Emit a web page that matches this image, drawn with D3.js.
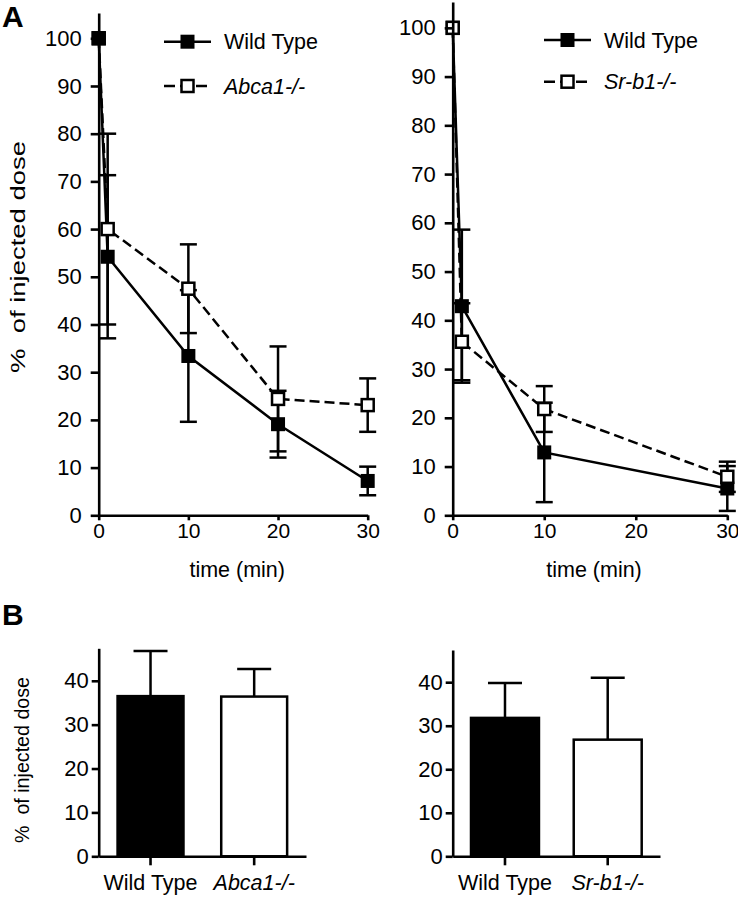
<!DOCTYPE html>
<html>
<head>
<meta charset="utf-8">
<script src="https://cdn.jsdelivr.net/npm/d3@7"></script>
<style>
  body { margin: 0; background: #fff; }
  svg { display: block; font-family: "Liberation Sans", Arial, sans-serif; }
</style>
</head>
<body>
<svg id="fig" width="738" height="897"></svg>
<script>
// panel A, left: Abca1
var timeAbca = [0, 1, 10, 20, 30];
var wtAbcaMean = [100, 54.2, 33.4, 19.1, 7.2];
var wtAbcaSem = [0, 17.1, 13.8, 7.0, 3.0];
var abcaMean = [100, 60.0, 47.5, 24.4, 23.1];
var abcaSem = [0, 20.0, 9.3, 11.0, 5.6];

// panel A, right: Sr-b1
var timeSrb = [0, 1, 10, 30];
var wtSrbMean = [100, 42.9, 12.9, 5.5];
var wtSrbSem = [0, 15.7, 10.2, 4.6];
var srbMean = [100, 35.6, 21.8, 7.9];
var srbSem = [0, 7.9, 4.7, 3.1];

var timeTicks = [0, 10, 20, 30];
var pctTicks = [0, 10, 20, 30, 40, 50, 60, 70, 80, 90, 100];

// panel B
var barGroupsAbca = ['Wild Type', 'Abca1-/-'];
var barMeanAbca = [36.5, 36.4];
var barSemAbca = [10.3, 6.3];
var barGroupsSrb = ['Wild Type', 'Sr-b1-/-'];
var barMeanSrb = [31.8, 26.8];
var barSemSrb = [8.0, 14.2];
var barTicks = [0, 10, 20, 30, 40];

var svg = d3.select('#fig');

function zip(t, m, s) {
  return t.map(function(d, i) { return { t: d, m: m[i], s: s[i] }; });
}

// plain black axis, text sized directly on each label
function styleAxis(sel, size) {
  sel.select('.domain').attr('stroke', '#000').attr('stroke-width', 2.6);
  sel.selectAll('.tick line').attr('stroke', '#000').attr('stroke-width', 2.6);
  sel.selectAll('.tick text')
    .attr('fill', '#000')
    .style('font-family', '"Liberation Sans", Arial, sans-serif')
    .style('font-size', size + 'px');
}

function linePanel(cfg) {
  var x = d3.scaleLinear().domain([0, 30]).range([cfg.left, cfg.right]);
  var y = d3.scaleLinear().domain([0, 105.3]).range([515.3, cfg.top]);
  var g = svg.append('g');

  var line = d3.line()
    .x(function(d) { return x(d.t); })
    .y(function(d) { return y(d.m); });

  // lines and error bars
  cfg.series.forEach(function(s) {
    g.append('path')
      .attr('d', line(s.data))
      .attr('fill', 'none')
      .attr('stroke', '#000')
      .attr('stroke-width', 2.5)
      .attr('stroke-dasharray', s.dashed ? '10,5' : null);

    var eb = g.selectAll(null)
      .data(s.data.filter(function(d) { return d.s > 0; }))
      .enter().append('g')
        .attr('stroke', '#000')
        .attr('stroke-width', 2.5);
    eb.append('line')
      .attr('x1', function(d) { return x(d.t); })
      .attr('x2', function(d) { return x(d.t); })
      .attr('y1', function(d) { return y(d.m - d.s); })
      .attr('y2', function(d) { return y(d.m + d.s); });
    [-1, 1].forEach(function(k) {
      eb.append('line')
        .attr('x1', function(d) { return x(d.t) - 8.5; })
        .attr('x2', function(d) { return x(d.t) + 8.5; })
        .attr('y1', function(d) { return y(d.m + k * d.s); })
        .attr('y2', function(d) { return y(d.m + k * d.s); });
    });
  });

  // markers
  cfg.series.forEach(function(s) {
    g.selectAll(null)
      .data(s.data)
      .enter().append('rect')
        .attr('x', function(d) { return x(d.t) - (s.filled ? 7 : 6); })
        .attr('y', function(d) { return y(d.m) - (s.filled ? 7 : 6); })
        .attr('width', s.filled ? 14 : 12)
        .attr('height', s.filled ? 14 : 12)
        .attr('fill', s.filled ? '#000' : '#fff')
        .attr('stroke', s.filled ? 'none' : '#000')
        .attr('stroke-width', 2.5);
  });

  // axes
  g.append('g')
    .attr('transform', 'translate(0,515.3)')
    .call(d3.axisBottom(x).tickValues(timeTicks).tickSize(5).tickPadding(3).tickSizeOuter(0))
    .call(styleAxis, 21);
  g.append('g')
    .attr('transform', 'translate(' + cfg.left + ',0)')
    .call(d3.axisLeft(y).tickValues(pctTicks).tickSize(8).tickPadding(9).tickSizeOuter(0))
    .call(styleAxis, 22);

  g.append('text')
    .attr('x', (cfg.left + cfg.right) / 2 + 4)
    .attr('y', 576.7)
    .attr('text-anchor', 'middle')
    .attr('font-size', 21.5)
    .text('time (min)');

  // legend
  cfg.legend.forEach(function(r) {
    var lg = g.append('g');
    lg.append('line')
      .attr('x1', cfg.legX0).attr('x2', cfg.legX0 + 47)
      .attr('y1', r.y).attr('y2', r.y)
      .attr('stroke', '#000').attr('stroke-width', 2.5)
      .attr('stroke-dasharray', r.dashed ? '11,5' : null);
    lg.append('rect')
      .attr('x', cfg.legX0 + 23.5 - (r.filled ? 7 : 6))
      .attr('y', r.y - (r.filled ? 7 : 6))
      .attr('width', r.filled ? 14 : 12)
      .attr('height', r.filled ? 14 : 12)
      .attr('fill', r.filled ? '#000' : '#fff')
      .attr('stroke', r.filled ? 'none' : '#000')
      .attr('stroke-width', 2.5);
    lg.append('text')
      .attr('x', cfg.legX0 + 60)
      .attr('y', r.y + 7.5)
      .attr('font-size', 21.5)
      .attr('font-style', r.italic ? 'italic' : null)
      .text(r.label);
  });
}

function barPanel(cfg) {
  var x = d3.scaleBand().domain(cfg.groups).range([cfg.left, cfg.right])
    .paddingInner(cfg.padIn).paddingOuter(cfg.padOut);
  var y = d3.scaleLinear().domain([0, 47.4]).range([856.3, cfg.top]);
  var g = svg.append('g');
  var data = cfg.groups.map(function(k, i) { return { k: k, m: cfg.means[i], s: cfg.sems[i], i: i }; });

  var eb = g.selectAll(null).data(data).enter().append('g')
    .attr('stroke', '#000').attr('stroke-width', 2.5);
  eb.append('line')
    .attr('x1', function(d) { return x(d.k) + x.bandwidth() / 2; })
    .attr('x2', function(d) { return x(d.k) + x.bandwidth() / 2; })
    .attr('y1', function(d) { return y(d.m); })
    .attr('y2', function(d) { return y(d.m + d.s); });
  eb.append('line')
    .attr('x1', function(d) { return x(d.k) + x.bandwidth() / 2 - 17; })
    .attr('x2', function(d) { return x(d.k) + x.bandwidth() / 2 + 17; })
    .attr('y1', function(d) { return y(d.m + d.s); })
    .attr('y2', function(d) { return y(d.m + d.s); });

  g.selectAll(null).data(data).enter().append('rect')
    .attr('x', function(d) { return x(d.k) + 1.25; })
    .attr('y', function(d) { return y(d.m); })
    .attr('width', x.bandwidth() - 2.5)
    .attr('height', function(d) { return y(0) - y(d.m); })
    .attr('fill', function(d) { return d.i === 0 ? '#000' : '#fff'; })
    .attr('stroke', '#000')
    .attr('stroke-width', 2.5);

  g.append('g')
    .attr('transform', 'translate(0,856.3)')
    .call(d3.axisBottom(x).tickSize(9).tickPadding(9).tickSizeOuter(0))
    .call(styleAxis, 21.5)
    .selectAll('.tick text')
      .style('font-style', function(d, i) { return i === 1 ? 'italic' : null; });
  g.append('g')
    .attr('transform', 'translate(' + cfg.left + ',0)')
    .call(d3.axisLeft(y).tickValues(barTicks).tickSize(7).tickPadding(3).tickSizeOuter(0))
    .call(styleAxis, 22);
}

linePanel({
  left: 98.7, right: 367.7, top: 13,
  series: [
    { data: zip(timeAbca, abcaMean, abcaSem), dashed: true, filled: false },
    { data: zip(timeAbca, wtAbcaMean, wtAbcaSem), dashed: false, filled: true }
  ],
  legX0: 164,
  legend: [
    { y: 41.7, label: 'Wild Type', filled: true },
    { y: 86, label: 'Abca1-/-', filled: false, dashed: true, italic: true }
  ]
});

linePanel({
  left: 452.7, right: 727.3, top: 2,
  series: [
    { data: zip(timeSrb, wtSrbMean, wtSrbSem), dashed: false, filled: true },
    { data: zip(timeSrb, srbMean, srbSem), dashed: true, filled: false }
  ],
  legX0: 544,
  legend: [
    { y: 40, label: 'Wild Type', filled: true },
    { y: 81.7, label: 'Sr-b1-/-', filled: false, dashed: true, italic: true }
  ]
});

barPanel({
  groups: barGroupsAbca, means: barMeanAbca, sems: barSemAbca,
  left: 98.7, right: 306, top: 648.3, padIn: 0.34, padOut: 0.17
});

barPanel({
  groups: barGroupsSrb, means: barMeanSrb, sems: barSemSrb,
  left: 452.7, right: 660, top: 650, padIn: 0.314, padOut: 0.166
});

// y titles
svg.append('text')
  .attr('transform', 'translate(25,257) rotate(-90)')
  .attr('text-anchor', 'middle')
  .attr('font-size', 20)
  .attr('textLength', 232)
  .attr('lengthAdjust', 'spacingAndGlyphs')
  .text('%\u00a0 of injected dose');
svg.append('text')
  .attr('transform', 'translate(29,760) rotate(-90)')
  .attr('text-anchor', 'middle')
  .attr('font-size', 21)
  .attr('textLength', 166)
  .attr('lengthAdjust', 'spacingAndGlyphs')
  .text('%\u00a0 of injected dose');

// panel letters
svg.append('text').attr('x', 2).attr('y', 27)
  .attr('font-size', 30).attr('font-weight', 'bold').text('A');
svg.append('text').attr('x', 2).attr('y', 625)
  .attr('font-size', 30).attr('font-weight', 'bold').text('B');
</script>
</body>
</html>
